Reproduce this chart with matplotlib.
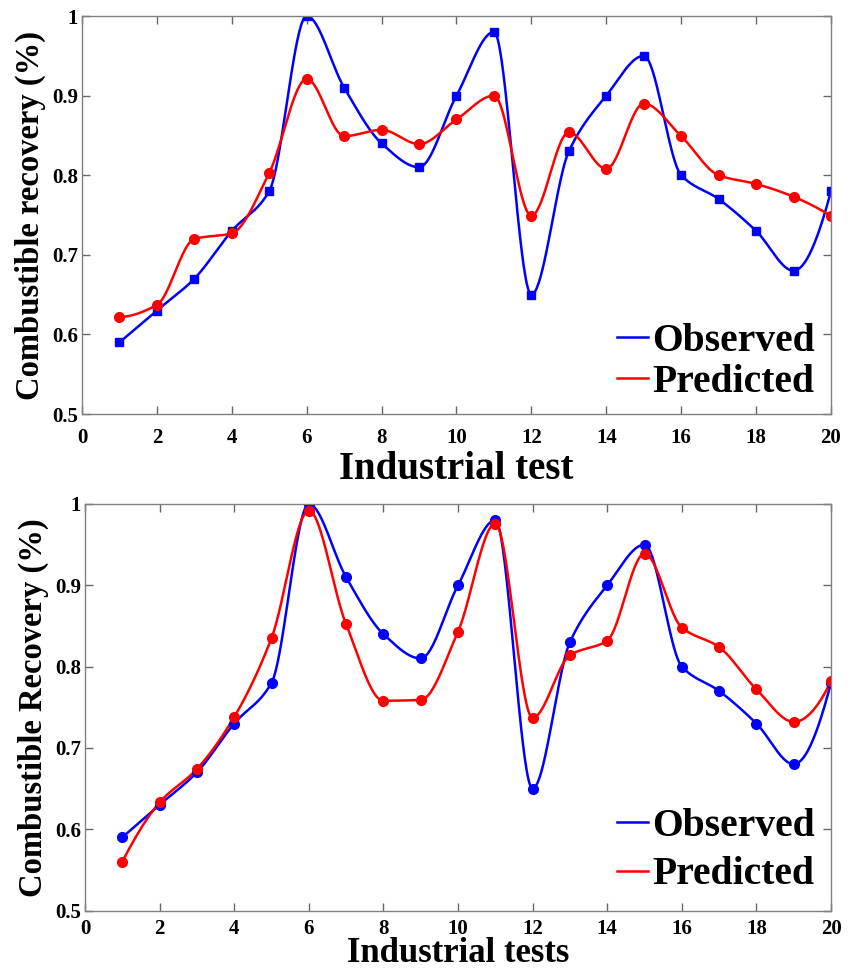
import numpy as np
import matplotlib
matplotlib.use("Agg")
import matplotlib.pyplot as plt

tests = list(range(1, 21))
observed = [0.59, 0.63, 0.67, 0.73, 0.78, 1.00, 0.91, 0.84, 0.81, 0.90,
            0.98, 0.65, 0.83, 0.90, 0.95, 0.80, 0.77, 0.73, 0.68, 0.78]
predicted_top = [0.622, 0.637, 0.720, 0.727, 0.803, 0.921, 0.849, 0.857, 0.839, 0.870,
                 0.900, 0.749, 0.854, 0.808, 0.890, 0.849, 0.800, 0.789, 0.773, 0.749]
predicted_bottom = [0.560, 0.633, 0.674, 0.738, 0.835, 0.992, 0.852, 0.758, 0.759, 0.843,
                    0.976, 0.737, 0.814, 0.832, 0.939, 0.848, 0.824, 0.772, 0.732, 0.782]
xticks = list(range(0, 21, 2))
yticks = [0.5, 0.6, 0.7, 0.8, 0.9, 1.0]
yticklabels = ["0.5", "0.6", "0.7", "0.8", "0.9", "1"]


def pchip(x, y, xq):
    x = np.asarray(x, float); y = np.asarray(y, float)
    h = np.diff(x); d = np.diff(y) / h
    n = len(x); m = np.zeros(n)
    for k in range(1, n - 1):
        if d[k - 1] * d[k] > 0:
            w1 = 2 * h[k] + h[k - 1]; w2 = h[k] + 2 * h[k - 1]
            m[k] = (w1 + w2) / (w1 / d[k - 1] + w2 / d[k])
    def end(h0, h1, d0, d1):
        s = ((2 * h0 + h1) * d0 - h0 * d1) / (h0 + h1)
        if np.sign(s) != np.sign(d0):
            s = 0.0
        elif np.sign(d0) != np.sign(d1) and abs(s) > abs(3 * d0):
            s = 3 * d0
        return s
    m[0] = end(h[0], h[1], d[0], d[1])
    m[-1] = end(h[-1], h[-2], d[-1], d[-2])
    idx = np.clip(np.searchsorted(x, xq) - 1, 0, n - 2)
    t = (xq - x[idx]) / h[idx]
    h00 = 2 * t**3 - 3 * t**2 + 1; h10 = t**3 - 2 * t**2 + t
    h01 = -2 * t**3 + 3 * t**2; h11 = t**3 - t**2
    return h00 * y[idx] + h10 * h[idx] * m[idx] + h01 * y[idx + 1] + h11 * h[idx] * m[idx + 1]


plt.rcParams['font.family'] = ['Liberation Serif', 'DejaVu Serif']
plt.rcParams['font.weight'] = 'bold'

W, H = 853, 974
fig = plt.figure(figsize=(W / 100, H / 100), dpi=100)
ax1 = fig.add_axes([82 / W, 1 - 414 / H, (831 - 82) / W, (414 - 16) / H])
ax2 = fig.add_axes([85 / W, 1 - 910.5 / H, (831 - 85) / W, (910.5 - 504) / H])

xs = np.linspace(1, 20, 800)


def draw(ax, pred, obs_marker, ylabel, xlabel, xtpad, xlpad, xlsize, leg_anchor, lspace):
    ax.plot(xs, pchip(tests, observed, xs), color='#0000ff', lw=1.8, label='Observed')
    ax.plot(xs, pchip(tests, pred, xs), color='#ff0000', lw=1.8, label='Predicted')
    ax.plot(tests, observed, ls='none', marker=obs_marker, color='#0000ff',
            ms=5.5 if obs_marker == 's' else 7)
    ax.plot(tests, pred, ls='none', marker='o', color='#ff0000', ms=7)
    ax.set_xlim(0, 20); ax.set_ylim(0.5, 1.0)
    ax.set_xticks(xticks); ax.set_yticks(yticks)
    ax.set_yticklabels(yticklabels)
    ax.tick_params(direction='in', top=True, right=True, length=6, width=1,
                   color='#666666', labelsize=15)
    ax.tick_params(axis='x', pad=xtpad)
    ax.tick_params(axis='y', pad=3)
    for lab in ax.get_xticklabels() + ax.get_yticklabels():
        lab.set_fontweight('bold')
    for sp in ax.spines.values():
        sp.set_color('#808080'); sp.set_linewidth(1)
    ax.set_ylabel(ylabel, fontsize=23.5, fontweight='bold', labelpad=4)
    ax.set_xlabel(xlabel, fontsize=xlsize, fontweight='bold', labelpad=xlpad)
    h, l = ax.get_legend_handles_labels()
    ax.legend(h[:2], l[:2], loc='lower right', bbox_to_anchor=leg_anchor,
              frameon=False, prop={'weight': 'bold', 'size': 28.5},
              handlelength=0.8, handletextpad=0.1, borderaxespad=0,
              borderpad=0, labelspacing=lspace)


draw(ax1, predicted_top, 's', 'Combustible recovery (%)', 'Industrial test', 10, 2, 28,
     (1 - 16 / 749, 13 / 398), 0.1)
draw(ax2, predicted_bottom, 'o', 'Combustible Recovery (%)', 'Industrial tests', 6, -1, 25,
     (1 - 16 / 746, 17 / 406), 0.3)

fig.savefig('out.png', dpi=100)
